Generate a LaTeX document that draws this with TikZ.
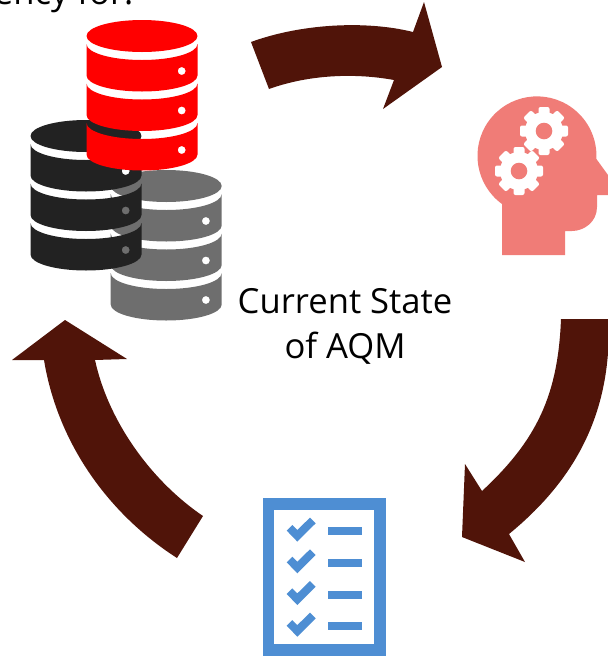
\documentclass[tikz,border=0pt]{standalone}
\usepackage{fontspec}
\setmainfont{Open Sans}
\definecolor{arrowbrown}{HTML}{501409}
\definecolor{headsalmon}{HTML}{F07C77}
\definecolor{listblue}{HTML}{4E8ED3}
\definecolor{stackgray}{HTML}{6E6E6E}
\definecolor{stackblack}{HTML}{222222}
\tikzset{
    pics/dbstack/.style={code={
        \fill[#1] (0,0) ellipse [x radius=55.5, y radius=16];
        \foreach \k in {0,1,2} {
            \fill[#1, even odd rule] (-55.5,{\k*39.5+8})
                arc[start angle=180, end angle=0, x radius=55.5, y radius=16]
                -- (55.5,{(\k+1)*39.5})
                arc[start angle=0, end angle=180, x radius=55.5, y radius=16]
                -- cycle
                (39.7,{\k*39.5+35}) circle[radius=4];
        }
    }},
    pics/gear/.style={code={
        \fill[white] (0,0) circle[radius=19];
        \foreach \a in {0,45,...,315} {
            \fill[white, rotate=\a, rounded corners=2pt] (15,-5.5) rectangle (24,5.5);
        }
        \fill[headsalmon] (0,0) circle[radius=8.3];
    }},
    pics/checkrow/.style={code={
        \fill[listblue] (-37,-0.7) -- (-26.4,10.3) -- (-8,-8) -- (-13.7,-13.7)
            -- (-26.4,-1.3) -- (-31.4,-6.3) -- cycle;
        \fill[listblue] (4.3,-4) rectangle (38.3,4);
    }}
}

\begin{document}
\begin{tikzpicture}[
            x=1pt, y=-1pt,
            flowarrow/.style={fill=arrowbrown},
            label/.style={font=\fontsize{34.6}{45}\selectfont, align=center, text=black, inner sep=0pt}]
        \clip (0,0) rectangle (608,657);
        \node[label, anchor=base west] (topline) at (-15,4) {iency for:};
        \node[label] (currentstate) at (345,326) {Current State\\of AQM};

        \pic at (166.2,186) {dbstack=stackgray};
        \pic at (86,136) {dbstack=stackblack};
        \pic at (142,36) {dbstack=red};

        \fill[flowarrow] (251,42) .. controls (300,24) and (365,20) .. (413,32)
            -- (424,2) -- (442,67) -- (383,109) -- (394,80)
            .. controls (350,72) and (305,76) .. (269,89) -- cycle;
        \fill[flowarrow] (561,319) -- (608,319) -- (608,353)
            .. controls (603,420) and (575,480) .. (509,534)
            -- (525,562) -- (462,537) -- (465,464) -- (482,491)
            .. controls (537,440) and (558,395) .. (561,319) -- cycle;
        \fill[flowarrow] (203,516) .. controls (150,480) and (108,420) .. (95,360)
            -- (127,359) -- (65,320) -- (12,360) -- (44,360)
            .. controls (58,445) and (110,515) .. (177,558) -- cycle;

        \fill[headsalmon] (502,204)
            arc[start angle=126, end angle=363, radius=59.5]
            -- (608,175) -- (608,195) -- (597,195) -- (597,207)
            .. controls (597,222) and (584,231) .. (572,231)
            -- (565,231) -- (565,255) -- (502,255) -- cycle;
        \pic at (544,131) {gear};
        \pic at (519,171) {gear};

        \draw[listblue, line width=11.6pt] (268.5,504) rectangle (379.7,650);
        \foreach \y in {531.3,563,594.7,626.4} {
            \pic at (323.7,\y) {checkrow};
        }
    \end{tikzpicture}
\end{document}
